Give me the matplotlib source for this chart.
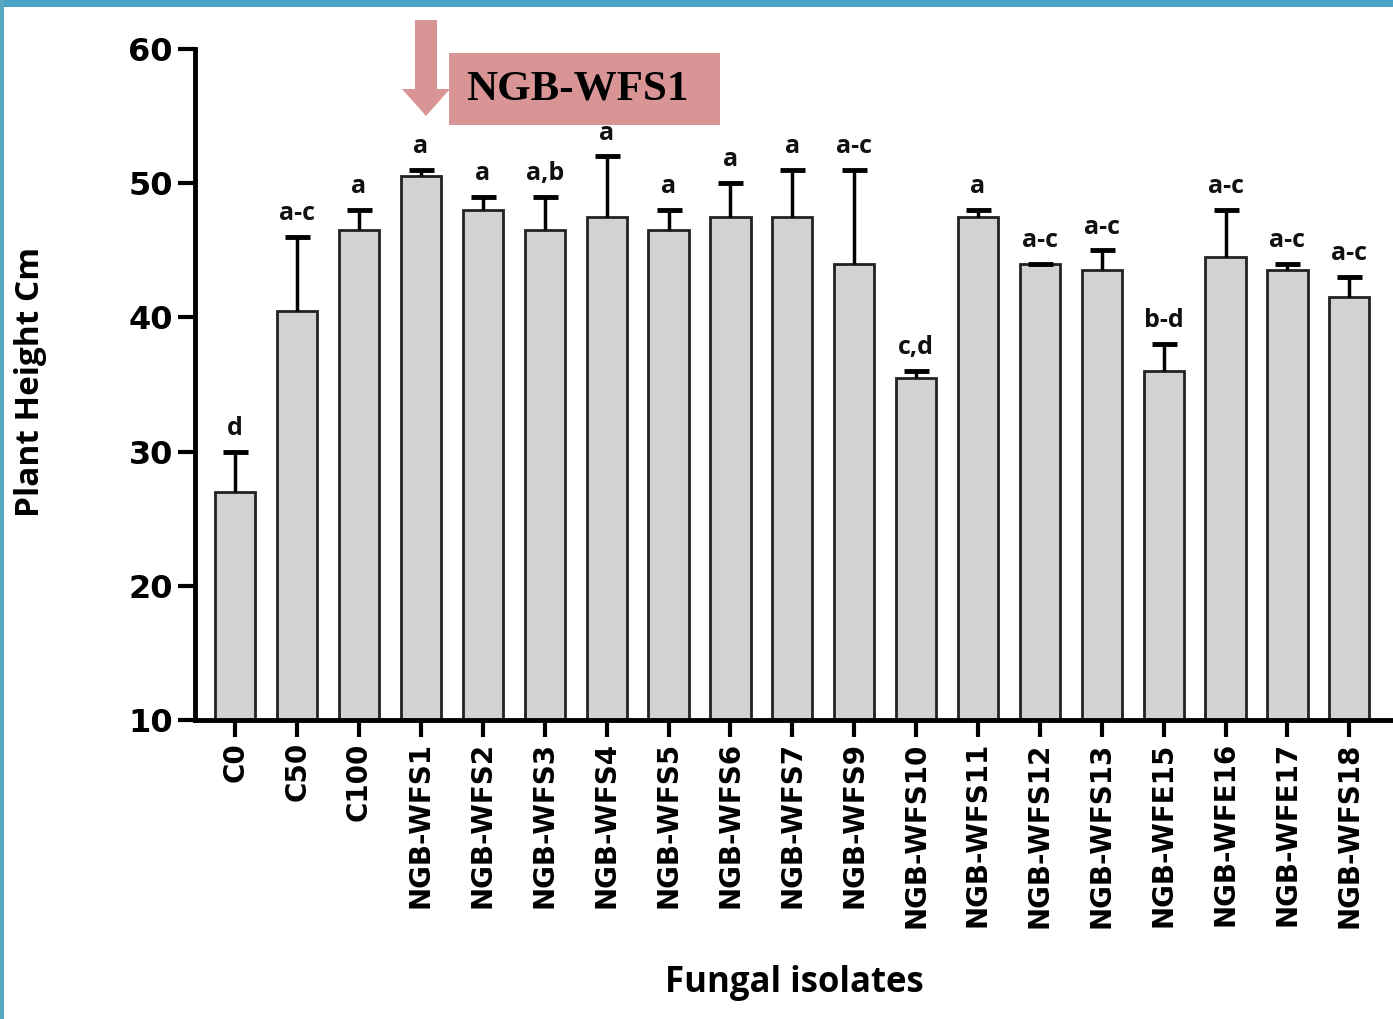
import numpy as np
import matplotlib
matplotlib.use("Agg")
import matplotlib.pyplot as plt
from matplotlib.patches import Rectangle, FancyArrow
from matplotlib.transforms import IdentityTransform

# datos: altura de planta por aislado
labels = ["C0", "C50", "C100", "NGB-WFS1", "NGB-WFS2", "NGB-WFS3", "NGB-WFS4",
          "NGB-WFS5", "NGB-WFS6", "NGB-WFS7", "NGB-WFS9", "NGB-WFS10", "NGB-WFS11",
          "NGB-WFS12", "NGB-WFS13", "NGB-WFE15", "NGB-WFE16", "NGB-WFE17", "NGB-WFS18"]
height = [27.0, 40.5, 46.5, 50.5, 48.0, 46.5, 47.5, 46.5, 47.5, 47.5, 44.0, 35.5,
          47.5, 44.0, 43.5, 36.0, 44.5, 43.5, 41.5]
err = [3.0, 5.5, 1.5, 0.5, 1.0, 2.5, 4.5, 1.5, 2.5, 3.5, 7.0, 0.5,
       0.5, 0.0, 1.5, 2.0, 3.5, 0.5, 1.5]
letters = ["d", "a-c", "a", "a", "a", "a,b", "a", "a", "a", "a", "a-c", "c,d",
           "a", "a-c", "a-c", "b-d", "a-c", "a-c", "a-c"]
highlight = "NGB-WFS1"

fnt = "Open Sans"
tfnt = "DejaVu Sans"
fig = plt.figure(figsize=(13.93, 10.19), dpi=100)
ax = fig.add_axes([0.140, 0.2934, 0.862, 0.6586])

x = np.arange(len(labels))
ax.bar(x, np.array(height) - 10, bottom=10, width=0.65, color="#d2d2d2",
       edgecolor="#222222", linewidth=2, zorder=2)
eb = ax.errorbar(x, height, yerr=[np.zeros(len(err)), err], fmt="none", ecolor="black",
                 elinewidth=2.5, capsize=9, capthick=3.5, zorder=3)
# solo tapa superior
for cl in eb[1]:
    if np.allclose(cl.get_ydata(), height):
        cl.set_visible(False)

for xi, h, e, l in zip(x, height, err, letters):
    ax.text(xi, h + e + 0.8, l, ha="center", va="bottom", fontsize=18,
            fontweight="bold", family=fnt, color="#111111", zorder=5)

ax.set_xlim(-0.65, 18.75)
ax.set_ylim(10, 60)
ax.set_yticks([10, 20, 30, 40, 50, 60])
ax.set_xticks(x)
ax.set_xticklabels(labels, rotation=90, fontsize=20, fontweight="bold", family=tfnt)
for t in ax.get_yticklabels():
    t.set_fontsize(23)
    t.set_fontweight("bold")
    t.set_family(tfnt)
ax.tick_params(axis="both", width=3, length=12, direction="out", pad=4)
for s in ["top", "right"]:
    ax.spines[s].set_visible(False)
for s in ["left", "bottom"]:
    ax.spines[s].set_linewidth(3.5)

fig.text(0.022, 0.625, "Plant Height Cm", rotation=90, ha="center", va="center",
         fontsize=24, fontweight="bold", family=fnt)
fig.text(0.570, 0.035, "Fungal isolates", ha="center", va="center",
         fontsize=25, fontweight="bold", family=fnt)

# recuadro y flecha del aislado destacado
fig.patches.append(Rectangle((0.322, 0.877), 0.195, 0.071, transform=fig.transFigure,
                             facecolor="#d99595", edgecolor="none"))
fig.text(0.4145, 0.9125, highlight, ha="center", va="center", fontsize=31,
         fontweight="bold", family="Liberation Serif")
fig.patches.append(FancyArrow(426, 999, 0, -96, width=22, head_width=48, head_length=27,
                              length_includes_head=True, transform=IdentityTransform(),
                              facecolor="#d99595", edgecolor="none"))

# borde de la diapositiva
fig.patches.append(Rectangle((0, 0.993), 1, 0.007, transform=fig.transFigure,
                             facecolor="#4aa3c4", edgecolor="none"))
fig.patches.append(Rectangle((0, 0), 0.003, 1, transform=fig.transFigure,
                             facecolor="#5aa9c4", edgecolor="none"))

fig.savefig("out.png", dpi=100)
